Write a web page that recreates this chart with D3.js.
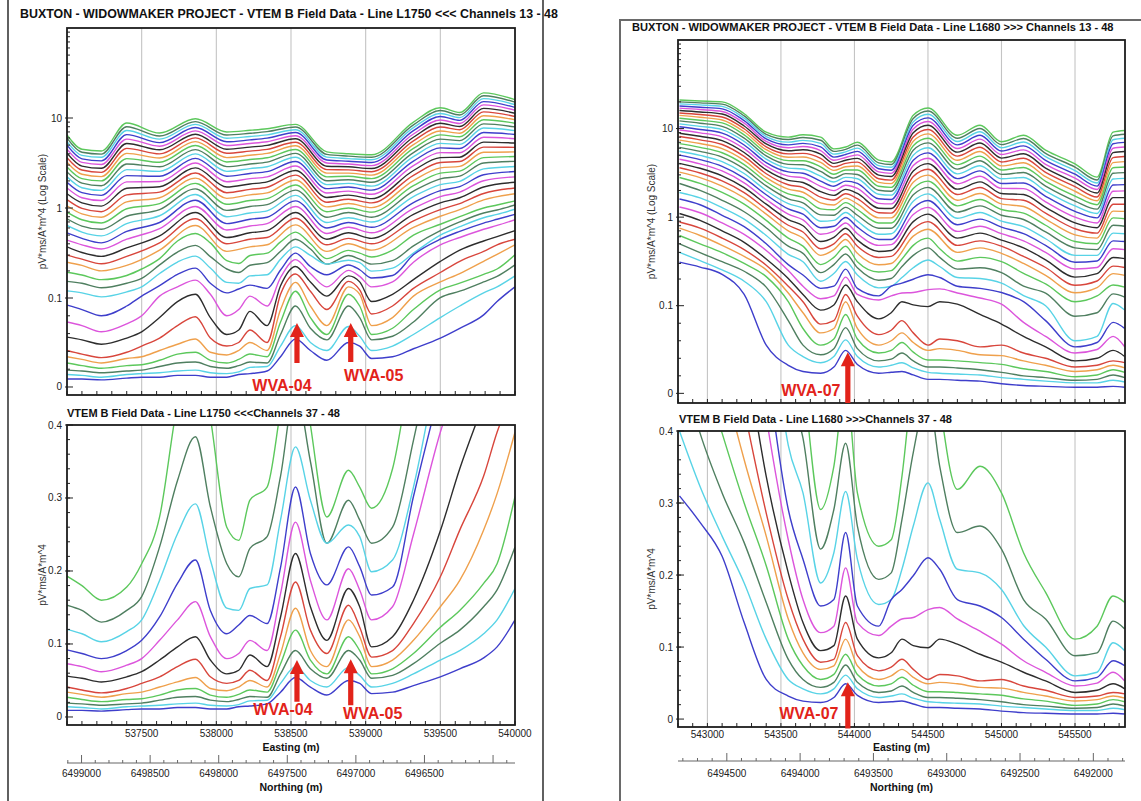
<!DOCTYPE html>
<html>
<head>
<meta charset="utf-8">
<title>VTEM B Field Data</title>
<script src="https://cdn.jsdelivr.net/npm/d3@7"></script>
<style>
  body { margin: 0; background: #fff; }
  svg { display: block; }
  text { font-family: "Liberation Sans", Arial, Helvetica, sans-serif; }
</style>
</head>
<body>
<svg id="chart" width="1141" height="801"></svg>
<script>
// ---- channels -------------------------------------------------------------
const earlyChannels = [13, 14, 15, 16, 17, 18, 19, 20, 21, 22, 23, 24, 25, 26, 27, 28, 29, 30, 31, 32, 33, 34, 35, 36];
const lateChannels = [37, 38, 39, 40, 41, 42, 43, 44, 45, 46, 47, 48];

// ---- Line L1750 -----------------------------------------------------------
// early channels (13-36), one row per station, values in pV*ms/A*m^4
const l1750EarlyStations = [537000, 537100, 537230, 537400, 537620, 537860, 538070, 538225, 538340,
  538530, 538740, 538885, 539040, 539320, 539500, 539630, 539790, 540000];
const l1750Early = [
  [6.5, 5.97, 5.47, 4.98, 4.50, 4.06, 3.63, 3.23, 2.86, 2.52, 2.22, 1.93, 1.67, 1.44, 1.24, 1.06, 0.90, 0.76, 0.64, 0.53, 0.44, 0.37, 0.30, 0.25],
  [4.5, 4.16, 3.84, 3.52, 3.21, 2.92, 2.64, 2.37, 2.12, 1.89, 1.68, 1.48, 1.30, 1.14, 0.99, 0.86, 0.74, 0.63, 0.54, 0.46, 0.39, 0.32, 0.27, 0.23],
  [4.3, 3.97, 3.66, 3.34, 3.04, 2.76, 2.49, 2.23, 2.00, 1.77, 1.57, 1.38, 1.21, 1.05, 0.91, 0.79, 0.68, 0.58, 0.49, 0.41, 0.35, 0.29, 0.24, 0.20],
  [8.8, 8.0, 7.26, 6.53, 5.83, 5.21, 4.60, 4.05, 3.54, 3.08, 2.67, 2.29, 1.95, 1.66, 1.40, 1.17, 0.98, 0.81, 0.67, 0.55, 0.45, 0.36, 0.29, 0.23],
  [6.8, 6.31, 5.82, 5.33, 4.86, 4.43, 3.99, 3.59, 3.22, 2.87, 2.55, 2.25, 1.97, 1.72, 1.50, 1.30, 1.12, 0.96, 0.82, 0.69, 0.59, 0.49, 0.41, 0.34],
  [9.8, 9.12, 8.49, 7.83, 7.19, 6.61, 6.01, 5.46, 4.94, 4.45, 3.99, 3.56, 3.16, 2.79, 2.45, 2.15, 1.88, 1.63, 1.41, 1.22, 1.04, 0.89, 0.76, 0.64],
  [7.0, 6.47, 5.96, 5.44, 4.95, 4.50, 4.06, 3.63, 3.25, 2.88, 2.55, 2.25, 1.96, 1.71, 1.48, 1.28, 1.10, 0.94, 0.80, 0.67, 0.57, 0.47, 0.40, 0.33],
  [7.3, 6.76, 6.24, 5.71, 5.21, 4.75, 4.29, 3.85, 3.46, 3.08, 2.74, 2.42, 2.12, 1.85, 1.61, 1.40, 1.21, 1.04, 0.88, 0.75, 0.63, 0.53, 0.45, 0.37],
  [7.6, 7.05, 6.50, 5.97, 5.44, 4.97, 4.48, 4.04, 3.62, 3.23, 2.87, 2.54, 2.22, 1.95, 1.70, 1.47, 1.27, 1.09, 0.93, 0.79, 0.67, 0.56, 0.47, 0.39],
  [8.5, 7.94, 7.41, 6.89, 6.35, 5.87, 5.37, 4.91, 4.47, 4.05, 3.66, 3.28, 2.93, 2.61, 2.32, 2.05, 1.80, 1.58, 1.38, 1.20, 1.04, 0.89, 0.77, 0.65],
  [4.2, 3.94, 3.67, 3.41, 3.16, 2.91, 2.67, 2.44, 2.22, 2.01, 1.82, 1.64, 1.47, 1.31, 1.16, 1.03, 0.91, 0.79, 0.69, 0.60, 0.52, 0.45, 0.39, 0.33],
  [4.0, 3.77, 3.54, 3.31, 3.08, 2.87, 2.65, 2.44, 2.25, 2.06, 1.88, 1.71, 1.54, 1.39, 1.25, 1.12, 1.00, 0.89, 0.78, 0.69, 0.61, 0.53, 0.46, 0.40],
  [3.9, 3.66, 3.43, 3.20, 2.96, 2.75, 2.53, 2.32, 2.12, 1.93, 1.75, 1.58, 1.42, 1.27, 1.14, 1.01, 0.90, 0.79, 0.70, 0.61, 0.53, 0.46, 0.40, 0.34],
  [9.0, 8.39, 7.82, 7.23, 6.64, 6.11, 5.57, 5.06, 4.59, 4.13, 3.72, 3.32, 2.95, 2.61, 2.31, 2.02, 1.77, 1.54, 1.34, 1.15, 0.99, 0.85, 0.72, 0.61],
  [13, 12.1, 11.2, 10.4, 9.5, 8.73, 7.93, 7.18, 6.49, 5.83, 5.22, 4.66, 4.12, 3.63, 3.20, 2.79, 2.44, 2.11, 1.82, 1.56, 1.34, 1.14, 0.96, 0.81],
  [11.5, 10.8, 10.1, 9.40, 8.69, 8.05, 7.40, 6.78, 6.18, 5.61, 5.09, 4.58, 4.11, 3.67, 3.28, 2.90, 2.57, 2.26, 1.98, 1.73, 1.50, 1.30, 1.12, 0.96],
  [19, 17.7, 16.4, 15.2, 14.0, 12.8, 11.7, 10.6, 9.57, 8.61, 7.73, 6.89, 6.10, 5.40, 4.75, 4.16, 3.63, 3.16, 2.72, 2.34, 2.01, 1.71, 1.45, 1.23],
  [16, 15.0, 14.1, 13.1, 12.2, 11.3, 10.4, 9.55, 8.75, 7.96, 7.24, 6.55, 5.89, 5.27, 4.72, 4.20, 3.73, 3.30, 2.89, 2.54, 2.22, 1.93, 1.67, 1.44]
];
// late channels (37-48), one row per channel
const l1750Stations = [537000, 537100, 537230, 537400, 537500, 537620, 537740, 537860, 537960, 538070,
  538150, 538225, 538340, 538430, 538530, 538630, 538740, 538885, 538960, 539040, 539180, 539320,
  539500, 539630, 539790, 539880, 540000];
const l1750Late = [
  [0.193, 0.180, 0.160, 0.178, 0.21, 0.274, 0.43, 0.52, 0.41, 0.26, 0.242, 0.297, 0.315, 0.42, 0.54, 0.40, 0.274, 0.338, 0.315, 0.286, 0.34, 0.50, 0.66, 0.80, 1.0, 1.08, 1.2],
  [0.153, 0.146, 0.130, 0.146, 0.165, 0.233, 0.324, 0.384, 0.288, 0.210, 0.192, 0.231, 0.247, 0.33, 0.45, 0.35, 0.238, 0.297, 0.270, 0.238, 0.260, 0.379, 0.56, 0.70, 0.88, 0.95, 1.08],
  [0.120, 0.114, 0.103, 0.117, 0.133, 0.187, 0.251, 0.292, 0.215, 0.149, 0.146, 0.176, 0.181, 0.270, 0.370, 0.297, 0.238, 0.263, 0.247, 0.199, 0.215, 0.315, 0.50, 0.62, 0.78, 0.85, 0.97],
  [0.092, 0.087, 0.080, 0.091, 0.105, 0.137, 0.183, 0.215, 0.146, 0.114, 0.126, 0.139, 0.128, 0.205, 0.315, 0.224, 0.181, 0.233, 0.206, 0.167, 0.178, 0.302, 0.45, 0.55, 0.68, 0.75, 0.85],
  [0.073, 0.069, 0.062, 0.071, 0.080, 0.105, 0.133, 0.158, 0.110, 0.080, 0.087, 0.105, 0.091, 0.169, 0.267, 0.187, 0.133, 0.203, 0.174, 0.133, 0.151, 0.25, 0.39, 0.47, 0.58, 0.64, 0.74],
  [0.056, 0.053, 0.048, 0.055, 0.062, 0.078, 0.096, 0.110, 0.078, 0.059, 0.064, 0.085, 0.069, 0.137, 0.224, 0.151, 0.105, 0.176, 0.151, 0.096, 0.110, 0.160, 0.255, 0.34, 0.43, 0.48, 0.56],
  [0.041, 0.037, 0.033, 0.039, 0.046, 0.055, 0.069, 0.079, 0.055, 0.046, 0.050, 0.064, 0.050, 0.110, 0.185, 0.119, 0.087, 0.153, 0.123, 0.082, 0.091, 0.128, 0.192, 0.256, 0.33, 0.39, 0.45],
  [0.034, 0.031, 0.027, 0.032, 0.034, 0.041, 0.048, 0.054, 0.039, 0.036, 0.041, 0.050, 0.041, 0.087, 0.149, 0.091, 0.069, 0.133, 0.110, 0.069, 0.078, 0.105, 0.151, 0.187, 0.256, 0.306, 0.39],
  [0.027, 0.024, 0.021, 0.024, 0.025, 0.030, 0.037, 0.039, 0.030, 0.027, 0.031, 0.037, 0.034, 0.073, 0.119, 0.078, 0.059, 0.110, 0.091, 0.059, 0.066, 0.087, 0.123, 0.146, 0.183, 0.210, 0.302],
  [0.019, 0.018, 0.016, 0.018, 0.019, 0.023, 0.027, 0.028, 0.023, 0.021, 0.024, 0.028, 0.027, 0.059, 0.091, 0.066, 0.053, 0.091, 0.078, 0.053, 0.057, 0.073, 0.101, 0.119, 0.151, 0.174, 0.233],
  [0.014, 0.013, 0.011, 0.014, 0.015, 0.016, 0.018, 0.019, 0.016, 0.015, 0.017, 0.022, 0.023, 0.046, 0.069, 0.050, 0.041, 0.068, 0.057, 0.041, 0.046, 0.059, 0.078, 0.091, 0.114, 0.133, 0.176],
  [0.009, 0.009, 0.008, 0.010, 0.011, 0.011, 0.013, 0.013, 0.011, 0.011, 0.014, 0.015, 0.018, 0.034, 0.054, 0.041, 0.030, 0.050, 0.046, 0.032, 0.034, 0.043, 0.055, 0.066, 0.081, 0.096, 0.133]
];
const l1750EastTicks = [537500, 538000, 538500, 539000, 539500, 540000];
const l1750NorthTicks = [6499000, 6498500, 6498000, 6497500, 6497000, 6496500];
const l1750Targets = [{ name: "WVA-04", east: 538540 }, { name: "WVA-05", east: 538900 }];

// ---- Line L1680 -----------------------------------------------------------
const l1680EarlyStations = [542810, 542950, 543100, 543250, 543400, 543550, 543650, 543770, 543860,
  543940, 544020, 544165, 544250, 544400, 544500, 544700, 544854, 545000, 545150, 545300, 545500,
  545650, 545759, 545838];
const l1680Early = [
  [21, 20.0, 19.0, 18.0, 17.0, 16.0, 15.0, 14.1, 13.1, 12.2, 11.3, 10.5, 9.64, 8.85, 8.13, 7.41, 6.76, 6.14, 5.55, 5.01, 4.51, 4.05, 3.61, 3.22],
  [20.5, 19.5, 18.5, 17.4, 16.4, 15.4, 14.4, 13.4, 12.4, 11.5, 10.6, 9.77, 8.95, 8.18, 7.46, 6.78, 6.14, 5.53, 4.98, 4.46, 3.99, 3.56, 3.15, 2.79],
  [20, 18.9, 17.8, 16.7, 15.6, 14.6, 13.5, 12.5, 11.6, 10.6, 9.73, 8.87, 8.07, 7.31, 6.61, 5.94, 5.33, 4.76, 4.23, 3.75, 3.32, 2.92, 2.56, 2.24],
  [14.7, 13.9, 13.1, 12.3, 11.5, 10.7, 9.95, 9.20, 8.49, 7.80, 7.16, 6.53, 5.93, 5.37, 4.85, 4.37, 3.92, 3.50, 3.11, 2.76, 2.44, 2.15, 1.89, 1.65],
  [9.1, 8.61, 8.13, 7.64, 7.16, 6.70, 6.22, 5.77, 5.33, 4.91, 4.52, 4.13, 3.76, 3.41, 3.09, 2.79, 2.51, 2.25, 2.00, 1.79, 1.58, 1.40, 1.23, 1.08],
  [8.0, 7.52, 7.03, 6.55, 6.07, 5.62, 5.18, 4.74, 4.34, 3.94, 3.58, 3.24, 2.90, 2.60, 2.32, 2.07, 1.83, 1.61, 1.42, 1.24, 1.08, 0.94, 0.81, 0.70],
  [8.5, 7.93, 7.36, 6.81, 6.27, 5.77, 5.25, 4.78, 4.33, 3.90, 3.50, 3.13, 2.78, 2.46, 2.17, 1.91, 1.67, 1.45, 1.26, 1.08, 0.93, 0.80, 0.68, 0.58],
  [8.0, 7.38, 6.79, 6.22, 5.65, 5.13, 4.61, 4.14, 3.70, 3.28, 2.90, 2.55, 2.23, 1.94, 1.68, 1.45, 1.24, 1.06, 0.90, 0.76, 0.64, 0.53, 0.44, 0.37],
  [5.9, 5.52, 5.14, 4.76, 4.39, 4.05, 3.69, 3.37, 3.05, 2.76, 2.49, 2.23, 1.99, 1.76, 1.56, 1.37, 1.21, 1.05, 0.92, 0.79, 0.69, 0.59, 0.50, 0.43],
  [6.2, 5.82, 5.46, 5.09, 4.72, 4.39, 4.04, 3.71, 3.40, 3.10, 2.81, 2.55, 2.29, 2.06, 1.84, 1.64, 1.46, 1.29, 1.13, 0.99, 0.86, 0.75, 0.65, 0.56],
  [7.0, 6.50, 6.01, 5.53, 5.05, 4.61, 4.18, 3.78, 3.40, 3.03, 2.71, 2.40, 2.11, 1.85, 1.62, 1.41, 1.22, 1.05, 0.90, 0.77, 0.65, 0.55, 0.47, 0.39],
  [4.4, 4.10, 3.81, 3.52, 3.24, 2.98, 2.71, 2.47, 2.23, 2.01, 1.81, 1.61, 1.43, 1.26, 1.12, 0.98, 0.86, 0.75, 0.64, 0.56, 0.48, 0.41, 0.35, 0.29],
  [4.2, 3.93, 3.66, 3.39, 3.12, 2.88, 2.62, 2.39, 2.17, 1.96, 1.77, 1.58, 1.41, 1.25, 1.11, 0.98, 0.86, 0.75, 0.65, 0.56, 0.49, 0.42, 0.36, 0.30],
  [14.1, 13.0, 11.9, 10.9, 9.89, 8.95, 8.04, 7.19, 6.41, 5.68, 5.01, 4.40, 3.82, 3.32, 2.87, 2.47, 2.11, 1.79, 1.51, 1.27, 1.07, 0.89, 0.74, 0.61],
  [17.1, 15.8, 14.5, 13.2, 12.0, 10.9, 9.75, 8.71, 7.76, 6.89, 6.07, 5.32, 4.63, 4.02, 3.47, 2.98, 2.55, 2.17, 1.83, 1.54, 1.29, 1.08, 0.89, 0.73],
  [8.4, 7.76, 7.14, 6.55, 5.96, 5.42, 4.88, 4.38, 3.92, 3.48, 3.08, 2.72, 2.38, 2.07, 1.80, 1.55, 1.34, 1.14, 0.97, 0.82, 0.69, 0.58, 0.48, 0.40],
  [10.9, 10.0, 9.20, 8.39, 7.59, 6.87, 6.15, 5.50, 4.89, 4.33, 3.80, 3.33, 2.89, 2.50, 2.16, 1.85, 1.58, 1.34, 1.13, 0.95, 0.79, 0.66, 0.54, 0.45],
  [7.1, 6.58, 6.08, 5.58, 5.09, 4.64, 4.20, 3.79, 3.41, 3.04, 2.71, 2.40, 2.11, 1.85, 1.62, 1.41, 1.22, 1.05, 0.90, 0.77, 0.65, 0.55, 0.47, 0.39],
  [8.4, 7.71, 7.05, 6.38, 5.75, 5.19, 4.62, 4.11, 3.64, 3.19, 2.80, 2.43, 2.10, 1.80, 1.55, 1.32, 1.11, 0.94, 0.78, 0.65, 0.54, 0.45, 0.36, 0.30],
  [5.7, 5.25, 4.81, 4.38, 3.95, 3.58, 3.20, 2.86, 2.54, 2.24, 1.97, 1.72, 1.49, 1.29, 1.11, 0.95, 0.81, 0.68, 0.57, 0.48, 0.40, 0.33, 0.27, 0.22],
  [4.0, 3.67, 3.36, 3.05, 2.75, 2.47, 2.21, 1.96, 1.73, 1.52, 1.34, 1.16, 1.00, 0.86, 0.74, 0.63, 0.53, 0.45, 0.37, 0.31, 0.26, 0.21, 0.17, 0.14],
  [2.83, 2.63, 2.43, 2.24, 2.05, 1.87, 1.69, 1.53, 1.38, 1.23, 1.10, 0.98, 0.86, 0.76, 0.66, 0.58, 0.50, 0.43, 0.37, 0.32, 0.27, 0.23, 0.19, 0.16],
  [9.1, 8.28, 7.48, 6.73, 6.00, 5.35, 4.70, 4.13, 3.61, 3.13, 2.70, 2.31, 1.96, 1.66, 1.40, 1.17, 0.98, 0.81, 0.66, 0.54, 0.44, 0.35, 0.28, 0.23],
  [9.5, 8.63, 7.78, 6.98, 6.19, 5.51, 4.84, 4.23, 3.68, 3.18, 2.74, 2.33, 1.98, 1.66, 1.40, 1.16, 0.96, 0.79, 0.65, 0.53, 0.43, 0.34, 0.27, 0.22]
];
const l1680Stations = [542810, 542950, 543100, 543250, 543400, 543550, 543650, 543770, 543860, 543940,
  544020, 544165, 544250, 544323, 544400, 544500, 544580, 544700, 544854, 545000, 545150, 545300,
  545500, 545650, 545759, 545838];
const l1680Late = [
  [2.8, 2.4, 1.9, 1.4, 0.92, 0.58, 0.47, 0.291, 0.351, 0.47, 0.314, 0.240, 0.249, 0.337, 0.48, 0.58, 0.44, 0.319, 0.351, 0.314, 0.231, 0.176, 0.111, 0.129, 0.171, 0.162],
  [2.4, 2.0, 1.55, 1.15, 0.76, 0.47, 0.39, 0.236, 0.291, 0.383, 0.268, 0.194, 0.203, 0.277, 0.37, 0.45, 0.351, 0.259, 0.268, 0.236, 0.166, 0.139, 0.088, 0.092, 0.136, 0.125],
  [1.9, 1.65, 1.28, 0.95, 0.62, 0.38, 0.314, 0.189, 0.231, 0.316, 0.222, 0.159, 0.166, 0.208, 0.268, 0.328, 0.277, 0.208, 0.203, 0.180, 0.130, 0.100, 0.060, 0.065, 0.106, 0.095],
  [1.6, 1.38, 1.05, 0.78, 0.50, 0.291, 0.222, 0.157, 0.166, 0.259, 0.157, 0.129, 0.166, 0.180, 0.199, 0.224, 0.208, 0.166, 0.157, 0.141, 0.111, 0.083, 0.053, 0.058, 0.081, 0.074],
  [1.3, 1.12, 0.86, 0.64, 0.42, 0.249, 0.166, 0.120, 0.129, 0.210, 0.134, 0.116, 0.129, 0.139, 0.141, 0.152, 0.155, 0.139, 0.122, 0.104, 0.081, 0.065, 0.046, 0.050, 0.065, 0.053],
  [1.1, 0.92, 0.70, 0.52, 0.337, 0.203, 0.134, 0.095, 0.102, 0.171, 0.111, 0.085, 0.092, 0.111, 0.102, 0.099, 0.111, 0.104, 0.090, 0.079, 0.065, 0.053, 0.037, 0.040, 0.049, 0.042],
  [0.88, 0.75, 0.58, 0.43, 0.286, 0.166, 0.111, 0.079, 0.083, 0.134, 0.088, 0.067, 0.072, 0.083, 0.069, 0.055, 0.062, 0.060, 0.053, 0.055, 0.046, 0.040, 0.030, 0.032, 0.037, 0.035],
  [0.75, 0.62, 0.48, 0.36, 0.254, 0.139, 0.092, 0.069, 0.074, 0.111, 0.074, 0.055, 0.060, 0.069, 0.058, 0.049, 0.051, 0.049, 0.044, 0.043, 0.037, 0.032, 0.025, 0.027, 0.032, 0.029],
  [0.62, 0.50, 0.397, 0.30, 0.213, 0.111, 0.074, 0.055, 0.062, 0.090, 0.062, 0.046, 0.049, 0.058, 0.047, 0.038, 0.038, 0.037, 0.035, 0.033, 0.028, 0.025, 0.019, 0.021, 0.027, 0.024],
  [0.50, 0.397, 0.314, 0.245, 0.162, 0.083, 0.055, 0.044, 0.051, 0.075, 0.051, 0.037, 0.039, 0.046, 0.037, 0.030, 0.030, 0.029, 0.027, 0.024, 0.020, 0.018, 0.015, 0.016, 0.021, 0.018],
  [0.40, 0.323, 0.254, 0.189, 0.111, 0.055, 0.042, 0.035, 0.042, 0.061, 0.042, 0.030, 0.032, 0.035, 0.029, 0.024, 0.023, 0.022, 0.021, 0.018, 0.016, 0.014, 0.012, 0.012, 0.015, 0.013],
  [0.31, 0.273, 0.226, 0.134, 0.055, 0.032, 0.025, 0.023, 0.030, 0.049, 0.033, 0.023, 0.024, 0.025, 0.021, 0.016, 0.016, 0.015, 0.014, 0.011, 0.009, 0.008, 0.007, 0.007, 0.008, 0.007]
];
const l1680EastTicks = [543000, 543500, 544000, 544500, 545000, 545500];
const l1680NorthTicks = [6494500, 6494000, 6493500, 6493000, 6492500, 6492000];
const l1680Targets = [{ name: "WVA-07", east: 543955 }];

// y axis ticks
const logTickValues = [0, 0.1, 1, 10];
const logTickLabels = ["0", "0.1", "1", "10"];
const linTickValues = [0, 0.1, 0.2, 0.3, 0.4];
const linTickLabels = ["0", "0.1", "0.2", "0.3", "0.4"];

// colour cycle, starting from channel 48 and going up
const palette = ["#3e3ecb", "#58d3e6", "#4f7f60", "#5cc85c", "#efa04c", "#d8463c", "#2d2d2d", "#dc55dc"];
const colorOf = ch => palette[(48 - ch) % 8];
const red = "#e2231a";

// ---- layout ---------------------------------------------------------------
const figures = [
  {
    id: "l1750",
    title: "BUXTON - WIDOWMAKER PROJECT - VTEM B Field Data - Line L1750 <<< Channels 13 - 48",
    subTitle: "VTEM B Field Data - Line L1750 <<<Channels 37 - 48",
    earlyStations: l1750EarlyStations, early: l1750Early, stations: l1750Stations, late: l1750Late,
    eastDomain: [537000, 540000], eastTicks: l1750EastTicks,
    northDomain: [6499106, 6495840], northTicks: l1750NorthTicks, targets: l1750Targets,
    left: 67, right: 515,
    top: { y1: 28, y0: 395, brk: 298, minV: -0.009 },
    low: { y1: 425, y0: 725, minV: -0.011 },
    title1: { x: 20, y: 18, size: 12.4 },
    title2: { x: 67, y: 417, size: 11 },
    yLabelX: 46, eastLabelY: 737, eastTitleY: 751, northY: 763, northLabelY: 777, northTitleY: 791,
    arrowsTop: [{ tip: 0.072, base: 0.027, dx: -15, ly: 385 }, { tip: 0.072, base: 0.028, dx: 23, ly: 375 }],
    arrowsLow: [{ tip: 0.078, base: 0.021, dx: -14, ly: 709 }, { tip: 0.079, base: 0.016, dx: 22, ly: 713 }]
  },
  {
    id: "l1680",
    title: "BUXTON - WIDOWMAKER PROJECT - VTEM B Field Data - Line L1680 >>> Channels 13 - 48",
    subTitle: "VTEM B Field Data - Line L1680 >>>Channels 37 - 48",
    earlyStations: l1680EarlyStations, early: l1680Early, stations: l1680Stations, late: l1680Late,
    eastDomain: [542800, 545840], eastTicks: l1680EastTicks,
    northDomain: [6494833, 6491784], northTicks: l1680NorthTicks, targets: l1680Targets,
    left: 678, right: 1125,
    top: { y1: 40, y0: 403, brk: 305.7, minV: -0.011 },
    low: { y1: 431, y0: 727, minV: -0.011 },
    title1: { x: 632, y: 31, size: 11.1 },
    title2: { x: 679, y: 423, size: 11 },
    yLabelX: 655, eastLabelY: 738, eastTitleY: 751, northY: 761, northLabelY: 777, northTitleY: 791,
    arrowsTop: [{ tip: 0.047, base: -0.011, dx: -37, ly: 390 }],
    arrowsLow: [{ tip: 0.051, base: -0.013, dx: -39, ly: 713 }]
  }
];

const svg = d3.select("#chart");
svg.append("rect").attr("width", 1141).attr("height", 801).attr("fill", "#fff");
const defs = svg.append("defs");

// frames round the two figures
svg.append("path").attr("d", "M8,0V801M543,0V801")
  .attr("stroke", "#3a3a3a").attr("stroke-width", 1.6).attr("fill", "none");
svg.append("path").attr("d", "M620,801V20H1141")
  .attr("stroke", "#6a6a6a").attr("stroke-width", 2).attr("fill", "none");

// linear near zero, logarithmic above 0.1
function logLinScale(y0, brk, y1, minV) {
  const lin = d3.scaleLinear().domain([minV, 0.1]).range([y0, brk]);
  const log = d3.scaleLog().domain([0.1, 100]).range([brk, y1]);
  return v => (v <= 0.1 ? lin(v) : log(v));
}

function buildSeries(f) {
  const early = earlyChannels.map((ch, j) => ({
    ch, pts: f.earlyStations.map((e, i) => [e, f.early[i][j]])
  }));
  const late = lateChannels.map((ch, j) => ({
    ch, pts: f.stations.map((e, i) => [e, f.late[j][i]])
  }));
  return early.concat(late);
}

function drawArrow(g, x, yTip, yBase) {
  const hw = 7, hh = 14, sw = 2.6;
  g.append("path")
    .attr("d", `M${x},${yTip}L${x + hw},${yTip + hh}L${x + sw},${yTip + hh}L${x + sw},${yBase}` +
      `L${x - sw},${yBase}L${x - sw},${yTip + hh}L${x - hw},${yTip + hh}Z`)
    .attr("fill", red);
}

function drawPanel(f, key, series, x, y, ticks) {
  const box = f[key];
  const g = svg.append("g");
  const clipId = `clip-${f.id}-${key}`;
  defs.append("clipPath").attr("id", clipId).append("rect")
    .attr("x", f.left).attr("y", box.y1).attr("width", f.right - f.left).attr("height", box.y0 - box.y1);

  // easting grid lines every 500 m
  const grid = d3.range(Math.ceil(f.eastDomain[0] / 500) * 500, f.eastDomain[1], 500)
    .filter(e => x(e) > f.left + 2 && x(e) < f.right - 2);
  g.selectAll(".grid").data(grid).join("line")
    .attr("x1", d => x(d)).attr("x2", d => x(d)).attr("y1", box.y1).attr("y2", box.y0)
    .attr("stroke", "#c4c4c4").attr("stroke-width", 1.1);

  const line = d3.line().x(d => x(d[0])).y(d => y(d[1])).curve(d3.curveMonotoneX);
  g.append("g").attr("clip-path", `url(#${clipId})`)
    .selectAll("path").data(series).join("path")
    .attr("d", d => line(d.pts))
    .attr("fill", "none")
    .attr("stroke", d => colorOf(d.ch))
    .attr("stroke-width", 1.4)
    .attr("stroke-linejoin", "round");

  // easting ticks every 100 m along the bottom
  const eTicks = d3.range(Math.ceil(f.eastDomain[0] / 100) * 100, f.eastDomain[1] + 1, 100);
  g.selectAll(".etick").data(eTicks).join("line")
    .attr("x1", d => x(d)).attr("x2", d => x(d)).attr("y1", box.y0).attr("y2", box.y0 - 4)
    .attr("stroke", "#222").attr("stroke-width", 1);

  // y ticks
  g.selectAll(".ymin").data(ticks.minor).join("line")
    .attr("x1", f.left).attr("x2", f.left + 3).attr("y1", d => y(d)).attr("y2", d => y(d))
    .attr("stroke", "#222").attr("stroke-width", 1);
  g.selectAll(".ymaj").data(ticks.values).join("line")
    .attr("x1", f.left - 2).attr("x2", f.left + 6).attr("y1", d => y(d)).attr("y2", d => y(d))
    .attr("stroke", "#222").attr("stroke-width", 1);
  g.selectAll(".ylab").data(ticks.values).join("text")
    .attr("x", f.left - 5).attr("y", d => y(d)).attr("dy", "0.35em")
    .attr("text-anchor", "end").attr("font-size", 10).attr("fill", "#222")
    .text((d, i) => ticks.labels[i]);

  g.append("rect")
    .attr("x", f.left).attr("y", box.y1).attr("width", f.right - f.left).attr("height", box.y0 - box.y1)
    .attr("fill", "none").attr("stroke", "#1c1c1c").attr("stroke-width", 1.8);

  g.append("text")
    .attr("transform", `translate(${f.yLabelX},${(box.y0 + box.y1) / 2}) rotate(-90)`)
    .attr("text-anchor", "middle").attr("font-size", 10).attr("fill", "#333")
    .text(ticks.title);
  return g;
}

function drawFigure(f) {
  const x = d3.scaleLinear().domain(f.eastDomain).range([f.left, f.right]);
  const yTop = logLinScale(f.top.y0, f.top.brk, f.top.y1, f.top.minV);
  const yLow = d3.scaleLinear().domain([f.low.minV, 0.4]).range([f.low.y0, f.low.y1]);
  const series = buildSeries(f);

  svg.append("text").attr("x", f.title1.x).attr("y", f.title1.y)
    .attr("font-size", f.title1.size).attr("font-weight", "bold").attr("fill", "#111")
    .text(f.title);
  svg.append("text").attr("x", f.title2.x).attr("y", f.title2.y)
    .attr("font-size", f.title2.size).attr("font-weight", "bold").attr("fill", "#111")
    .text(f.subTitle);

  const logMinor = [0.02, 0.04, 0.06, 0.08]
    .concat(...[0.1, 1, 10].map(b => d3.range(2, 10).map(k => +(k * b).toPrecision(2))));
  const topG = drawPanel(f, "top", series, x, yTop, {
    values: logTickValues, labels: logTickLabels, minor: logMinor, title: "pV*ms/A*m^4 (Log Scale)"
  });
  const lowG = drawPanel(f, "low", series.filter(s => s.ch >= 37), x, yLow, {
    values: linTickValues, labels: linTickLabels,
    minor: d3.range(0.02, 0.4, 0.02), title: "pV*ms/A*m^4"
  });

  // target arrows
  f.targets.forEach((t, i) => {
    [[topG, yTop, f.arrowsTop[i]], [lowG, yLow, f.arrowsLow[i]]].forEach(([g, y, a]) => {
      const ax = x(t.east);
      drawArrow(g, ax, y(a.tip), y(a.base));
      g.append("text").attr("x", ax + a.dx).attr("y", a.ly).attr("dy", "0.36em")
        .attr("text-anchor", "middle").attr("font-size", 16).attr("font-weight", "bold")
        .attr("fill", red).text(t.name);
    });
  });

  // easting labels
  svg.selectAll(null).data(f.eastTicks).join("text")
    .attr("x", d => x(d)).attr("y", f.eastLabelY).attr("text-anchor", "middle")
    .attr("font-size", 10).attr("fill", "#222").text(d => d);
  svg.append("text").attr("x", (f.left + f.right) / 2).attr("y", f.eastTitleY)
    .attr("text-anchor", "middle").attr("font-size", 10.5).attr("font-weight", "bold")
    .attr("fill", "#111").text("Easting (m)");

  // northing axis
  const n = d3.scaleLinear().domain(f.northDomain).range([f.left, f.right]);
  const nAxis = svg.append("g");
  nAxis.append("line").attr("x1", f.left).attr("x2", f.right).attr("y1", f.northY).attr("y2", f.northY)
    .attr("stroke", "#666").attr("stroke-width", 1.2);
  const nMinor = d3.range(Math.ceil(f.northDomain[1] / 100) * 100, f.northDomain[0], 100);
  nAxis.selectAll(".nmin").data(nMinor).join("line")
    .attr("x1", d => n(d)).attr("x2", d => n(d)).attr("y1", f.northY).attr("y2", d => f.northY - (d % 500 === 0 ? 8 : 3))
    .attr("stroke", "#666").attr("stroke-width", 1);
  nAxis.selectAll(".nlab").data(f.northTicks).join("text")
    .attr("x", d => n(d)).attr("y", f.northLabelY).attr("text-anchor", "middle")
    .attr("font-size", 10).attr("fill", "#222").text(d => d);
  svg.append("text").attr("x", (f.left + f.right) / 2).attr("y", f.northTitleY)
    .attr("text-anchor", "middle").attr("font-size", 10.5).attr("font-weight", "bold")
    .attr("fill", "#111").text("Northing (m)");
}

figures.forEach(drawFigure);
</script>
</body>
</html>
